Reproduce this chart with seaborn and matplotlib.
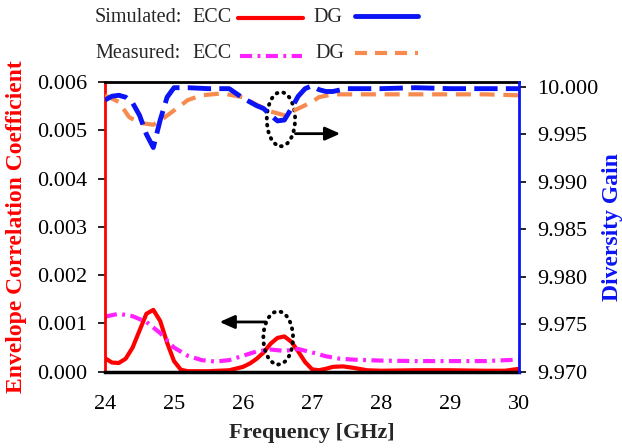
import matplotlib
matplotlib.use("Agg")
import matplotlib.pyplot as plt
import seaborn as sns
from matplotlib.lines import Line2D
from matplotlib.patches import Ellipse

# ---- data ----
freq_sim_ecc = [24.0, 24.1, 24.2, 24.3, 24.4, 24.5, 24.6, 24.7, 24.8, 24.9, 25.0, 25.1, 25.2, 25.5,
                25.8, 26.0, 26.1, 26.2, 26.3, 26.4, 26.5, 26.6, 26.7, 26.8, 26.9, 27.0, 27.1, 27.2,
                27.3, 27.45, 27.6, 27.8, 28.0, 28.5, 29.0, 29.5, 29.8, 30.0]
ecc_sim = [0.00028, 0.00019, 0.00018, 0.00027, 0.00050, 0.00085, 0.00120, 0.00128, 0.00105, 0.00060,
           0.00022, 0.00004, 0.00001, 0.00001, 0.00003, 0.00010, 0.00017, 0.00027, 0.00040, 0.00058,
           0.00070, 0.00073, 0.00062, 0.00042, 0.00020, 0.00005, 0.00003, 0.00006, 0.00010, 0.00011,
           0.00008, 0.00003, 0.00002, 0.00003, 0.00003, 0.00002, 0.00002, 0.00006]

freq_meas_ecc = [24.0, 24.2, 24.4, 24.6, 24.8, 25.0, 25.2, 25.4, 25.6, 25.8, 26.0, 26.2, 26.4, 26.6,
                 26.8, 27.0, 27.2, 27.4, 27.6, 28.0, 28.5, 29.0, 29.5, 30.0]
ecc_meas = [0.00114, 0.00120, 0.00115, 0.00103, 0.00080, 0.00050, 0.00033, 0.00024, 0.00021, 0.00024,
            0.00033, 0.00042, 0.00046, 0.00043, 0.00047, 0.00040, 0.00032, 0.00027, 0.00025, 0.00023,
            0.00022, 0.00022, 0.00022, 0.00025]

freq_sim_dg = [24.0, 24.1, 24.2, 24.3, 24.4, 24.5, 24.6, 24.7, 24.8, 24.9, 25.0, 25.2, 25.5, 25.8,
               26.0, 26.1, 26.2, 26.3, 26.4, 26.5, 26.6, 26.7, 26.8, 26.9, 27.0, 27.1, 27.2, 27.3,
               27.5, 28.0, 28.5, 29.0, 29.5, 30.0]
dg_sim = [9.9986, 9.9990, 9.9991, 9.9989, 9.9983, 9.9970, 9.9950, 9.9936, 9.9965, 9.9989, 9.9999,
          9.9999, 9.9998, 9.9998, 9.9988, 9.9984, 9.9980, 9.9977, 9.9970, 9.9964, 9.9965, 9.9977,
          9.9990, 9.9998, 10.0001, 9.9997, 9.9995, 9.9995, 9.9998, 9.9998, 9.9999, 9.9998, 9.9998,
          9.9998]

freq_meas_dg = [24.0, 24.2, 24.35, 24.5, 24.7, 24.85, 25.0, 25.2, 25.4, 25.7, 26.0, 26.2, 26.4, 26.6,
                26.8, 27.0, 27.1, 27.3, 27.6, 28.0, 28.5, 29.0, 29.5, 30.0]
dg_meas = [9.9991, 9.9984, 9.9968, 9.9962, 9.9960, 9.9967, 9.9975, 9.9986, 9.9991, 9.9993, 9.9989,
           9.9981, 9.9974, 9.9970, 9.9977, 9.9984, 9.9989, 9.9992, 9.9992, 9.9992, 9.9992, 9.9992,
           9.9992, 9.9991]

x_ticks = [24, 25, 26, 27, 28, 29, 30]
ecc_ticks = [0.000, 0.001, 0.002, 0.003, 0.004, 0.005, 0.006]
dg_ticks = [9.970, 9.975, 9.980, 9.985, 9.990, 9.995, 10.000]

# ---- style ----
sns.set_style("white")
plt.rcParams['font.family'] = ['Liberation Serif', 'DejaVu Serif']

RED = '#FF0000'
BLUE = '#0A14F5'
MAGENTA = '#FF22FF'
ORANGE = '#F78A4E'

fig = plt.figure(figsize=(6.22, 4.48), dpi=100)
ax = fig.add_axes([105/622, 1 - 371.7/448, (519-105)/622, (371.7-82)/448])
ax2 = ax.twinx()

sns.lineplot(x=freq_sim_ecc, y=ecc_sim, ax=ax, color=RED, linewidth=3.0, linestyle='-')
sns.lineplot(x=freq_meas_ecc, y=ecc_meas, ax=ax, color=MAGENTA, linewidth=3.0,
             linestyle=(0, (2.9, 1.3, 0.7, 1.3)))
sns.lineplot(x=freq_sim_dg, y=dg_sim, ax=ax2, color=BLUE, linewidth=3.5,
             linestyle=(0, (4.8, 1.7)), zorder=3)
sns.lineplot(x=freq_meas_dg, y=dg_meas, ax=ax2, color=ORANGE, linewidth=3.0,
             linestyle=(0, (3.6, 2.1)), zorder=2)

ax.set_xlim(24, 30)
ax.set_ylim(0, 0.006)
ax2.set_ylim(9.970, 10.0005)
ax.set_xticks(x_ticks)
ax.set_xticklabels([str(t) for t in x_ticks])
ax.set_yticks(ecc_ticks)
ax.set_yticklabels([f"{t:.3f}" for t in ecc_ticks])
ax2.set_yticks(dg_ticks)
ax2.set_yticklabels([f"{t:.3f}" for t in dg_ticks])

for a in (ax, ax2):
    a.tick_params(axis='both', labelsize=16, direction='out', length=5, width=1.2,
                  colors='black', pad=8)
    for s in a.spines.values():
        s.set_visible(True)
ax.tick_params(axis='x', pad=12)

ax.spines['left'].set_color(RED)
ax.spines['left'].set_linewidth(2)
ax2.spines['left'].set_visible(False)
ax2.spines['right'].set_color(BLUE)
ax2.spines['right'].set_linewidth(2)
ax.spines['right'].set_visible(False)
ax.spines['top'].set_color('black')
ax.spines['top'].set_linewidth(2)
ax.spines['bottom'].set_color('black')
ax.spines['bottom'].set_linewidth(2.5)
ax2.spines['top'].set_visible(False)
ax2.spines['bottom'].set_visible(False)

ax.set_xlabel("Frequency [GHz]", fontsize=16, fontweight='bold', labelpad=6)
ax.set_ylabel("Envelope Correlation Coefficient", fontsize=17, fontweight='bold',
              color=RED, labelpad=7)
ax2.set_ylabel("Diversity Gain", fontsize=17, fontweight='bold', color=BLUE, labelpad=3)

# ---- annotations: dotted ellipses and arrows ----
for center, w, h in [((26.55, 0.00523), 0.41, 0.00112), ((26.51, 0.00070), 0.43, 0.00110)]:
    ax.add_patch(Ellipse(center, w, h, fill=False, edgecolor='black',
                         linestyle=(0, (0.2, 1.6)), linewidth=2.8, capstyle='round', zorder=5))
ax.annotate("", xy=(27.45, 0.00493), xytext=(26.72, 0.00493),
            arrowprops=dict(arrowstyle='-|>,head_length=0.9,head_width=0.4',
                            color='black', lw=2), zorder=6)
ax.annotate("", xy=(25.62, 0.00103), xytext=(26.37, 0.00103),
            arrowprops=dict(arrowstyle='-|>,head_length=0.9,head_width=0.4',
                            color='black', lw=2), zorder=6)

# ---- legend built as a table at the top ----
W, H = 622.0, 448.0
def fx(px):
    return px / W
def fy(py):
    return 1 - py / H

fs = 14.5
fig.text(fx(95), fy(18), "Simulated:", fontsize=fs, va='center', ha='left')
fig.text(fx(192), fy(18), "ECC", fontsize=fs, va='center', ha='left')
fig.text(fx(313), fy(18), "DG", fontsize=fs, va='center', ha='left')
fig.text(fx(95), fy(53), "Measured:", fontsize=fs, va='center', ha='left')
fig.text(fx(192), fy(53), "ECC", fontsize=fs, va='center', ha='left')
fig.text(fx(315), fy(54), "DG", fontsize=fs, va='center', ha='left')

fig.add_artist(Line2D([fx(238), fx(303)], [fy(18), fy(18)], color=RED, lw=3.0))
fig.add_artist(Line2D([fx(355), fx(418)], [fy(16), fy(16)], color=BLUE, lw=3.5))
fig.add_artist(Line2D([fx(240), fx(302)], [fy(56), fy(56)], color=MAGENTA, lw=3.0,
                      linestyle=(0, (2.9, 1.3, 0.7, 1.3))))
fig.add_artist(Line2D([fx(355), fx(418)], [fy(53), fy(53)], color=ORANGE, lw=3.0,
                      linestyle=(0, (2.9, 1.9))))

fig.savefig("out.png", dpi=100)
